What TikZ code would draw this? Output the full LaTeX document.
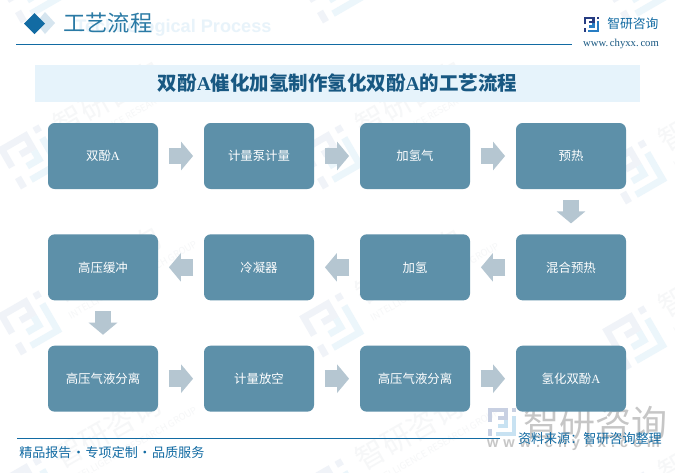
\documentclass[tikz,border=0pt]{standalone}
\usepackage{fontspec}
\usepackage{tikz}
\setmainfont{Noto Sans CJK SC}
\newfontfamily\latinbold{Liberation Sans}
\newfontfamily\latinserif{Liberation Serif}
\usetikzlibrary{arrows.meta, positioning}
\definecolor{boxblue}{RGB}{93, 144, 169}
\definecolor{flowgrey}{RGB}{181, 198, 209}
\definecolor{headblue}{RGB}{18, 107, 163}
\definecolor{titleblue}{RGB}{230, 243, 251}
\definecolor{titleink}{RGB}{24, 88, 130}
\definecolor{headink}{RGB}{42, 122, 165}
\definecolor{washblue}{RGB}{232, 243, 250}
\definecolor{diamondpale}{RGB}{214, 229, 239}
\definecolor{paleink}{RGB}{246, 247, 248}
\definecolor{palenavy}{RGB}{240, 243, 248}
\definecolor{palesky}{RGB}{236, 246, 251}
\definecolor{logonavy}{RGB}{38, 60, 130}
\definecolor{logosky}{RGB}{40, 125, 195}
\definecolor{marknavy}{RGB}{200, 208, 226}
\definecolor{marksky}{RGB}{200, 226, 242}
\definecolor{markink}{RGB}{198, 198, 198}
\tikzset{
    stepbox/.style={rectangle, rounded corners=5pt, minimum width=82.5pt, minimum height=49.5pt, text centered, fill=boxblue, text=white, font=\fontsize{9.3pt}{11pt}\selectfont},
    flowarrow/.style={draw=flowgrey, line width=12.5pt, -{Triangle[length=9pt, width=21pt]}, shorten <=8pt, shorten >=8pt},
    footnote/.style={text=headblue, font=\fontsize{9.8pt}{11pt}\selectfont, inner sep=0pt},
    pics/logomark/.style n args={3}{code={
        \draw[#1, line width=1.5*#3 pt] (1*#3,7*#3) -- (1*#3,1*#3) -- (9*#3,1*#3) -- (9*#3,5*#3) -- (5*#3,5*#3);
        \fill[#1] (0,10.5*#3) rectangle (2*#3,14*#3);
        \draw[#2, line width=1.5*#3 pt] (13*#3,4*#3) -- (13*#3,13*#3) -- (4*#3,13*#3);
        \draw[#2, line width=1.5*#3 pt] (9*#3,6*#3) -- (9*#3,9*#3) -- (5*#3,9*#3);
        \fill[#1] (12*#3,0) rectangle (14*#3,2*#3);
    }},
    pics/watermark/.style={code={
        \pic[transform shape] at (-24,-24) {logomark={palenavy}{palesky}{3.4}};
        \node[transform shape, text=paleink, font=\fontsize{22pt}{24pt}\selectfont, anchor=west, inner sep=0pt] (-mark) at (37,-12) {智研咨询};
        \node[transform shape, text=paleink, font=\fontsize{7pt}{9pt}\selectfont, anchor=west, inner sep=0pt] (-group) at (37,14) {INTELLIGENCE RESEARCH GROUP};
    }},
}

\begin{document}
\begin{tikzpicture}[x=0.75pt,y=-0.75pt,node distance=117pt]
  \useasboundingbox (0,0) rectangle (675,472);
  \fill[white] (0,0) rectangle (675,472);

  \foreach \wx/\wy [count=\wn] in {30/-9,332/-9,635/-9,30/157,332/157,635/172,30/323,332/325,635/338,30/489,332/491,635/504}
    \pic[rotate=30] (wash\wn) at (\wx,\wy) {watermark};

  \pic at (488,408) {logomark={marknavy}{marksky}{2}};
  \node[text=markink, font=\fontsize{27pt}{30pt}\selectfont, anchor=west, inner sep=0pt] (bigmark) at (523,423) {智研咨询};
  \node[text=markink, font=\latinbold\bfseries\fontsize{11pt}{13pt}\selectfont, anchor=center, inner sep=0pt] (bigsite) at (573.5,444) {w\,\,w\,\,w\,\,.\,\,c\,\,h\,\,y\,\,x\,\,x\,\,.\,\,c\,\,o\,\,m};

  \node[text=washblue, font=\latinbold\bfseries\fontsize{13.6pt}{15pt}\selectfont, anchor=west, inner sep=0pt] (english) at (75,28) {Technological Process};
  \fill[diamondpale] (36,23) -- (45,12) -- (55,23) -- (45,34) -- cycle;
  \fill[headblue] (24,23.5) -- (34.5,13) -- (45,23.5) -- (34.5,34) -- cycle;
  \node[text=headink, font=\fontsize{16.7pt}{18pt}\selectfont, anchor=west, inner sep=0pt] (heading) at (63,23) {工艺流程};
  \coordinate (ruleleft) at (16,44);
  \coordinate (ruleright) at (572,44);
  \draw[headblue, line width=0.75pt] (ruleleft) -- (ruleright);
  \pic at (584,17) {logomark={logonavy}{logosky}{1.05}};
  \node[text=headblue, font=\fontsize{9.6pt}{12pt}\selectfont, anchor=west, inner sep=0pt] (brand) at (607,24) {智研咨询};
  \node[text=titleink, font=\latinserif\fontsize{8pt}{9pt}\selectfont, anchor=center, inner sep=0pt] (site) at (621,44) {www.\,chyxx.\,com};

  \node[rectangle, fill=titleblue, minimum width=453.75pt, minimum height=27.75pt, inner sep=0pt, text=titleink, font=\bfseries\fontsize{14.6pt}{17pt}\selectfont] (title) at (337.5,83.5) {双酚{\latinserif A}催化加氢制作氢化双酚{\latinserif A}的工艺流程};

  \node[stepbox] (a) at (103,156) {双酚{\latinserif A}};
  \node[stepbox] (b) [right of=a] {计量泵计量};
  \node[stepbox] (c) [right of=b] {加氢气};
  \node[stepbox] (d) [right of=c] {预热};
  \node[stepbox] (e) [below of=d, node distance=83.5pt] {混合预热};
  \node[stepbox] (f) [left of=e] {加氢};
  \node[stepbox] (g) [left of=f] {冷凝器};
  \node[stepbox] (h) [left of=g] {高压缓冲};
  \node[stepbox] (i) [below of=h, node distance=83.5pt] {高压气液分离};
  \node[stepbox] (j) [right of=i] {计量放空};
  \node[stepbox] (k) [right of=j] {高压气液分离};
  \node[stepbox] (l) [right of=k] {氢化双酚{\latinserif A}};

  \foreach \from/\to in {a/b,b/c,c/d,d/e,e/f,f/g,g/h,h/i,i/j,j/k,k/l}
    \draw[flowarrow] (\from) -- (\to);

  \coordinate (footleft) at (17,438);
  \coordinate (footright) at (500,438);
  \draw[headblue, line width=0.75pt] (footleft) -- (footright);
  \node[footnote, anchor=west] (quality) at (19,453) {精品报告\hspace{0.4pt}·\hspace{0.4pt}专项定制\hspace{0.4pt}·\hspace{0.4pt}品质服务};
  \node[footnote, anchor=east] (source) at (662,439) {资料来源：智研咨询整理};
\end{tikzpicture}
\end{document}
